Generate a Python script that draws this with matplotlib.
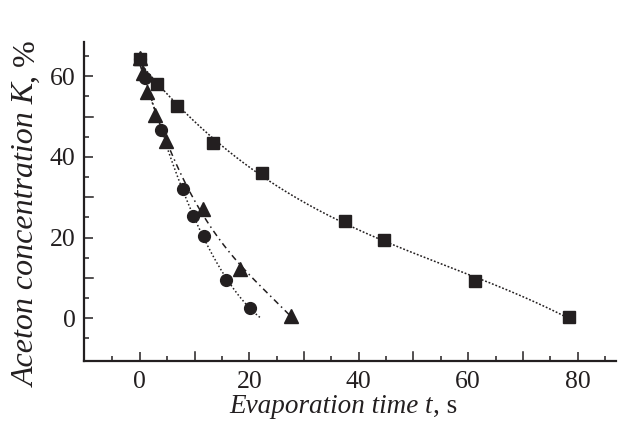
import numpy as np
import matplotlib
matplotlib.use("Agg")
import matplotlib.pyplot as plt
from matplotlib.ticker import FixedLocator

plt.rcParams['font.family'] = ['Liberation Serif', 'DejaVu Serif']

# Squares series
t_sq = [0.0, 3.1, 6.8, 13.3, 22.3, 37.5, 44.6, 61.2, 78.4]
k_sq = [64.3, 58.1, 52.6, 43.4, 36.0, 24.2, 19.5, 9.2, 0.3]
# Circles series
t_ci = [0.0, 1.0, 3.8, 7.8, 9.8, 11.7, 15.8, 20.2]
k_ci = [64.3, 59.6, 46.6, 32.1, 25.4, 20.3, 9.4, 2.5]
# Triangles series
t_tr = [0.0, 0.5, 1.4, 2.8, 4.8, 11.6, 18.3, 27.7]
k_tr = [64.6, 60.7, 56.1, 50.3, 44.0, 27.1, 12.3, 0.5]

x_ticks = [0, 20, 40, 60, 80]
y_ticks = [0, 20, 40, 60]
x_mid_ticks = [10, 30, 50, 70]
y_mid_ticks = [10, 30, 50]
x_minor = [-5, 5, 15, 25, 35, 45, 55, 65, 75, 85]
y_minor = [-5, 5, 15, 25, 35, 45, 55, 65]

ink = '#231f20'
W, H = 618, 428

fig = plt.figure(figsize=(W/100, H/100), dpi=100)
ax = fig.add_axes([84/W, 1-361/H, (616-84)/W, (361-42)/H])

def fit_curve(t, k, deg, tmax):
    p = np.polyfit(t, k, deg)
    tt = np.linspace(min(t), tmax, 200)
    return tt, np.polyval(p, tt)

tt, kk = fit_curve(t_sq, k_sq, 3, max(t_sq))
ax.plot(tt, kk, color=ink, lw=1.1, ls=(0, (1.2, 1.2)))
tt, kk = fit_curve(t_tr, k_tr, 3, max(t_tr))
ax.plot(tt, kk, color=ink, lw=1.1, ls=(0, (4, 2.5, 1, 2.5)))
tt, kk = fit_curve(t_ci, k_ci, 3, 22.2)
ax.plot(tt, kk, color=ink, lw=1.1, ls=(0, (1, 1.5)))

ax.plot(t_tr, k_tr, ls='none', marker='^', ms=9.5, color=ink, mec=ink)
ax.plot(t_ci, k_ci, ls='none', marker='o', ms=8.5, color=ink, mec=ink)
ax.plot(t_sq, k_sq, ls='none', marker='s', ms=8.5, color=ink, mec=ink)

ax.set_xlim(-10.2, 87)
ax.set_ylim(-10.6, 68.5)
ax.set_xticks(x_ticks)
ax.set_yticks(y_ticks)
ax.xaxis.set_minor_locator(FixedLocator(x_minor))
ax.yaxis.set_minor_locator(FixedLocator(y_minor))
ax.tick_params(which='both', direction='in', width=1.1, color=ink, labelcolor=ink, labelsize=18.5)
ax.tick_params(which='major', length=6.5)
ax.tick_params(axis='x', which='major', pad=7)
ax.tick_params(axis='y', which='major', pad=6)
ax.tick_params(which='minor', length=3.5)

# unlabeled major-length ticks at the odd tens
x0, x1 = ax.get_xlim()
y0, y1 = ax.get_ylim()
pxu_x = (616-84)/(x1-x0)
pxu_y = (361-42)/(y1-y0)
L = 6.5/72*100
for v in x_mid_ticks:
    ax.plot([v, v], [y0, y0 + L/pxu_y], color=ink, lw=1.1, clip_on=False)
for v in y_mid_ticks:
    ax.plot([x0, x0 + L/pxu_x], [v, v], color=ink, lw=1.1, clip_on=False)

for s in ['top', 'right']:
    ax.spines[s].set_visible(False)
for s in ['left', 'bottom']:
    ax.spines[s].set_linewidth(1.6)
    ax.spines[s].set_color(ink)

# Axis titles: italic part + upright unit, laid out with the renderer
fig.canvas.draw()
renderer = fig.canvas.get_renderer()

def x_title(main, tail, fs, cx, base_y):
    t1 = fig.text(0, 0, main, fontsize=fs, fontstyle='italic', color=ink,
                  ha='left', va='baseline')
    t2 = fig.text(0, 0, tail, fontsize=fs, color=ink, ha='left', va='baseline')
    w1 = t1.get_window_extent(renderer).width
    w2 = t2.get_window_extent(renderer).width
    xs = cx - (w1 + w2)/2
    t1.set_position((xs/W, base_y/H))
    t2.set_position(((xs + w1)/W, base_y/H))

def y_title(main, tail, fs, left_x, cy):
    t1 = fig.text(0, 0, main, fontsize=fs, fontstyle='italic', color=ink,
                  rotation=90, ha='left', va='bottom')
    t2 = fig.text(0, 0, tail, fontsize=fs, color=ink,
                  rotation=90, ha='left', va='bottom')
    h1 = t1.get_window_extent(renderer).height
    h2 = t2.get_window_extent(renderer).height
    ys = cy - (h1 + h2)/2
    t1.set_position((left_x/W, ys/H))
    t2.set_position((left_x/W, (ys + h1)/H))

x_title('Evaporation time t', ', s', 19.5, 343, H-413)
y_title('Aceton concentration K', ', %', 23, 13, H-214)

fig.savefig('out.png', dpi=100)
